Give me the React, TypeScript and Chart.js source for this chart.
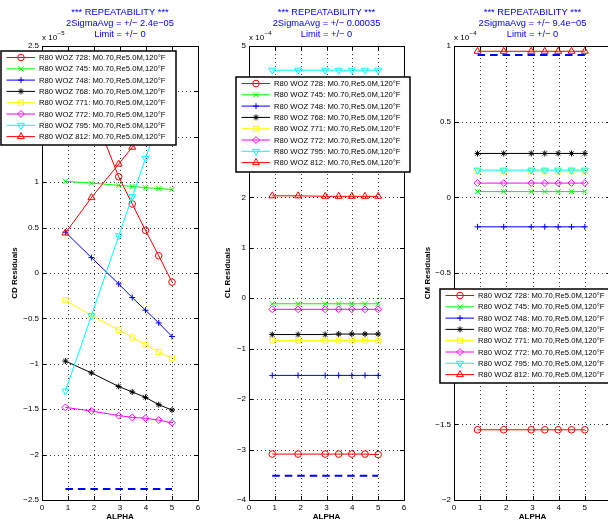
import React, { useEffect, useRef } from 'react';
import { Chart, registerables } from 'chart.js';

Chart.register(...registerables);

// ---------------- data ----------------
const ALPHA = [0.9, 1.9, 2.95, 3.47, 3.98, 4.49, 5.0];

const RUN_LABELS = [
  'R80 WOZ 728: M0.70,Re5.0M,120°F',
  'R80 WOZ 745: M0.70,Re5.0M,120°F',
  'R80 WOZ 748: M0.70,Re5.0M,120°F',
  'R80 WOZ 768: M0.70,Re5.0M,120°F',
  'R80 WOZ 771: M0.70,Re5.0M,120°F',
  'R80 WOZ 772: M0.70,Re5.0M,120°F',
  'R80 WOZ 795: M0.70,Re5.0M,120°F',
  'R80 WOZ 812: M0.70,Re5.0M,120°F',
];

// CD residuals (x 10^-5)
const CD_728 = [2.3, 1.82, 1.06, 0.76, 0.47, 0.19, -0.1];
const CD_745 = [1.01, 0.99, 0.965, 0.954, 0.94, 0.93, 0.92];
const CD_748 = [0.45, 0.17, -0.12, -0.27, -0.41, -0.55, -0.7];
const CD_768 = [-0.97, -1.1, -1.25, -1.31, -1.37, -1.45, -1.51];
const CD_771 = [-0.3, -0.47, -0.625, -0.71, -0.79, -0.87, -0.94];
const CD_772 = [-1.48, -1.52, -1.57, -1.59, -1.6, -1.62, -1.65];
const CD_795 = [-1.3, -0.47, 0.41, 0.84, 1.26, 1.69, 2.12];
const CD_812 = [0.44, 0.83, 1.2, 1.385, 1.57, 1.76, 1.94];
const CD_2SIGMA = -2.38;

// CL residuals (x 10^-4)
const CL_728 = [-3.09, -3.09, -3.09, -3.09, -3.09, -3.09, -3.1];
const CL_745 = [-0.11, -0.11, -0.11, -0.11, -0.11, -0.11, -0.11];
const CL_748 = [-1.53, -1.53, -1.53, -1.53, -1.53, -1.53, -1.53];
const CL_768 = [-0.72, -0.72, -0.72, -0.71, -0.71, -0.71, -0.71];
const CL_771 = [-0.84, -0.84, -0.84, -0.84, -0.84, -0.84, -0.84];
const CL_772 = [-0.22, -0.22, -0.22, -0.22, -0.22, -0.22, -0.22];
const CL_795 = [4.52, 4.52, 4.52, 4.52, 4.52, 4.52, 4.52];
const CL_812 = [2.03, 2.03, 2.02, 2.02, 2.02, 2.02, 2.02];
const CL_2SIGMA = -3.52;

// CM residuals (x 10^-4)
const CM_728 = [-1.536, -1.536, -1.536, -1.536, -1.536, -1.536, -1.536];
const CM_745 = [0.038, 0.038, 0.038, 0.038, 0.038, 0.038, 0.038];
const CM_748 = [-0.195, -0.195, -0.195, -0.195, -0.195, -0.195, -0.195];
const CM_768 = [0.29, 0.29, 0.29, 0.29, 0.29, 0.29, 0.29];
const CM_771 = [0.172, 0.172, 0.172, 0.172, 0.172, 0.172, 0.172];
const CM_772 = [0.094, 0.094, 0.094, 0.094, 0.094, 0.094, 0.094];
const CM_795 = [0.18, 0.18, 0.18, 0.18, 0.18, 0.18, 0.18];
const CM_812 = [0.965, 0.965, 0.965, 0.965, 0.965, 0.965, 0.965];
const CM_2SIGMA = 0.94;

const TITLE_LINE_1 = '*** REPEATABILITY ***';
const CD_TITLE_2 = '2SigmaAvg = +/\u2212 2.4e\u221205';
const CL_TITLE_2 = '2SigmaAvg = +/\u2212 0.00035';
const CM_TITLE_2 = '2SigmaAvg = +/\u2212 9.4e\u221205';
const TITLE_LINE_3 = 'Limit = +/\u2212 0';

// ---------------- styles ----------------
const FONT = '"Liberation Sans", Arial, Helvetica, sans-serif';
const SERIES_COLORS = ['#ff0000', '#00ff00', '#0000ff', '#000000', '#ffff00', '#ff00ff', '#00ffff', '#ff0000'];
const SERIES_MARKERS = ['circle', 'crossRot', 'cross', 'star', 'rect', 'rectRot', 'triangle', 'triangle'];
const SERIES_ROTATION = [0, 0, 0, 0, 0, 0, 180, 0];
const SERIES_RADIUS = [3.3, 3.6, 3, 3, 3.6, 3.4, 4, 4];

const CW = 620;
const CH = 523;
const TOP = 46;
const BOTTOM = 500;
const YW = 40;
const XH = 14;

type PanelSpec = {
  left: number;
  right: number;
  yMin: number;
  yMax: number;
  yStep: number;
  series: number[][];
  sigma: number;
  title2: string;
  exponent: string;
  yLabel: string;
  yLabelX: number;
  legend: { x: number; y: number; w: number; h: number };
};

const PANELS: PanelSpec[] = [
  {
    left: 42, right: 198, yMin: -2.5, yMax: 2.5, yStep: 0.5,
    series: [CD_728, CD_745, CD_748, CD_768, CD_771, CD_772, CD_795, CD_812],
    sigma: CD_2SIGMA, title2: CD_TITLE_2, exponent: '\u22125', yLabel: 'CD Residuals', yLabelX: 15,
    legend: { x: 1, y: 51, w: 175, h: 94 },
  },
  {
    left: 249, right: 404, yMin: -4, yMax: 5, yStep: 1,
    series: [CL_728, CL_745, CL_748, CL_768, CL_771, CL_772, CL_795, CL_812],
    sigma: CL_2SIGMA, title2: CL_TITLE_2, exponent: '\u22124', yLabel: 'CL Residuals', yLabelX: 228,
    legend: { x: 236, y: 77, w: 174, h: 95 },
  },
  {
    left: 454, right: 611, yMin: -2, yMax: 1, yStep: 0.5,
    series: [CM_728, CM_745, CM_748, CM_768, CM_771, CM_772, CM_795, CM_812],
    sigma: CM_2SIGMA, title2: CM_TITLE_2, exponent: '\u22124', yLabel: 'CM Residuals', yLabelX: 428,
    legend: { x: 440, y: 289, w: 174, h: 94 },
  },
];

function fmtTick(v: number | string) {
  const n = Math.round(Number(v) * 100) / 100;
  return String(n).replace('-', '\u2212');
}

function drawMarker(ctx: CanvasRenderingContext2D, style: string, x: number, y: number, r: number, rot: number, color: string) {
  ctx.save();
  ctx.strokeStyle = color;
  ctx.lineWidth = 1;
  ctx.beginPath();
  const d = r * Math.SQRT1_2;
  switch (style) {
    case 'circle':
      ctx.arc(x, y, r, 0, Math.PI * 2);
      break;
    case 'crossRot':
      ctx.moveTo(x - d, y - d); ctx.lineTo(x + d, y + d);
      ctx.moveTo(x + d, y - d); ctx.lineTo(x - d, y + d);
      break;
    case 'cross':
      ctx.moveTo(x - r, y); ctx.lineTo(x + r, y);
      ctx.moveTo(x, y - r); ctx.lineTo(x, y + r);
      break;
    case 'star':
      ctx.moveTo(x - r, y); ctx.lineTo(x + r, y);
      ctx.moveTo(x, y - r); ctx.lineTo(x, y + r);
      ctx.moveTo(x - d, y - d); ctx.lineTo(x + d, y + d);
      ctx.moveTo(x + d, y - d); ctx.lineTo(x - d, y + d);
      break;
    case 'rect':
      ctx.rect(x - d, y - d, 2 * d, 2 * d);
      break;
    case 'rectRot':
      ctx.moveTo(x - r, y); ctx.lineTo(x, y - r); ctx.lineTo(x + r, y); ctx.lineTo(x, y + r); ctx.closePath();
      break;
    case 'triangle': {
      let a = (rot * Math.PI) / 180;
      ctx.moveTo(x + Math.sin(a) * r, y - Math.cos(a) * r);
      a += (2 * Math.PI) / 3;
      ctx.lineTo(x + Math.sin(a) * r, y - Math.cos(a) * r);
      a += (2 * Math.PI) / 3;
      ctx.lineTo(x + Math.sin(a) * r, y - Math.cos(a) * r);
      ctx.closePath();
      break;
    }
  }
  ctx.stroke();
  ctx.restore();
}

function makePlugin(spec: PanelSpec) {
  return {
    id: 'matlabDecor',
    beforeDatasetsDraw(chart: any) {
      const { ctx, chartArea } = chart;
      const xs = chart.scales.x;
      const ys = chart.scales.y;
      ctx.save();
      ctx.strokeStyle = '#3a3a3a';
      ctx.lineWidth = 1;
      ctx.setLineDash([1, 3]);
      xs.ticks.forEach((t: any) => {
        const px = Math.round(xs.getPixelForValue(t.value)) + 0.5;
        if (px <= chartArea.left + 1 || px >= chartArea.right - 1) return;
        ctx.beginPath();
        ctx.moveTo(px, chartArea.top);
        ctx.lineTo(px, chartArea.bottom);
        ctx.stroke();
      });
      ys.ticks.forEach((t: any) => {
        const py = Math.round(ys.getPixelForValue(t.value)) + 0.5;
        if (py <= chartArea.top + 1 || py >= chartArea.bottom - 1) return;
        ctx.beginPath();
        ctx.moveTo(chartArea.left, py);
        ctx.lineTo(chartArea.right, py);
        ctx.stroke();
      });
      ctx.restore();
    },
    afterDraw(chart: any) {
      const { ctx, chartArea } = chart;
      const xs = chart.scales.x;
      const ys = chart.scales.y;
      const { left, right, top, bottom } = chartArea;
      ctx.save();
      // box
      ctx.strokeStyle = '#000';
      ctx.lineWidth = 1;
      ctx.setLineDash([]);
      ctx.strokeRect(left + 0.5, top + 0.5, right - left, bottom - top);
      // inward ticks
      const TL = 4;
      ctx.beginPath();
      xs.ticks.forEach((t: any) => {
        const px = Math.round(xs.getPixelForValue(t.value)) + 0.5;
        ctx.moveTo(px, bottom); ctx.lineTo(px, bottom - TL);
        ctx.moveTo(px, top); ctx.lineTo(px, top + TL);
      });
      ys.ticks.forEach((t: any) => {
        const py = Math.round(ys.getPixelForValue(t.value)) + 0.5;
        ctx.moveTo(left, py); ctx.lineTo(left + TL, py);
        ctx.moveTo(right, py); ctx.lineTo(right - TL, py);
      });
      ctx.stroke();

      // title
      const cx = (left + right) / 2;
      ctx.fillStyle = '#0000ff';
      ctx.font = `9.3px ${FONT}`;
      ctx.textAlign = 'center';
      ctx.textBaseline = 'middle';
      ctx.fillText(TITLE_LINE_1, cx, 12.5);
      ctx.fillText(spec.title2, cx, 23.5);
      ctx.fillText(TITLE_LINE_3, cx, 34.5);

      // exponent
      ctx.fillStyle = '#000';
      ctx.textAlign = 'left';
      ctx.font = `8px ${FONT}`;
      ctx.fillText('x 10', left, 38);
      const w = ctx.measureText('x 10').width;
      ctx.font = `6px ${FONT}`;
      ctx.fillText(spec.exponent, left + w + 0.5, 33.5);

      // axis labels
      ctx.font = `bold 8px ${FONT}`;
      ctx.textAlign = 'center';
      ctx.fillText('ALPHA', cx, 517);
      ctx.save();
      ctx.translate(spec.yLabelX, (top + bottom) / 2);
      ctx.rotate(-Math.PI / 2);
      ctx.fillText(spec.yLabel, 0, 0);
      ctx.restore();

      // legend
      const L = spec.legend;
      ctx.fillStyle = '#fff';
      ctx.fillRect(L.x, L.y, L.w, L.h);
      ctx.strokeStyle = '#000';
      ctx.lineWidth = 1.5;
      ctx.strokeRect(L.x, L.y, L.w, L.h);
      ctx.font = `7.7px ${FONT}`;
      ctx.textAlign = 'left';
      ctx.textBaseline = 'middle';
      RUN_LABELS.forEach((lab, i) => {
        const ry = L.y + 6.5 + i * 11.3;
        ctx.strokeStyle = SERIES_COLORS[i];
        ctx.lineWidth = 1;
        ctx.beginPath();
        ctx.moveTo(L.x + 5.5, ry);
        ctx.lineTo(L.x + 34, ry);
        ctx.stroke();
        drawMarker(ctx, SERIES_MARKERS[i], L.x + 20, ry, SERIES_RADIUS[i], SERIES_ROTATION[i], SERIES_COLORS[i]);
        ctx.fillStyle = '#000';
        ctx.fillText(lab, L.x + 38, ry + 0.5);
      });
      ctx.restore();
    },
  };
}

function makeConfig(spec: PanelSpec): any {
  const datasets: any[] = spec.series.map((vals, i) => ({
    label: RUN_LABELS[i],
    data: ALPHA.map((a, j) => ({ x: a, y: vals[j] })),
    borderColor: SERIES_COLORS[i],
    backgroundColor: 'rgba(0,0,0,0)',
    pointBackgroundColor: 'rgba(0,0,0,0)',
    pointBorderColor: SERIES_COLORS[i],
    pointStyle: SERIES_MARKERS[i],
    pointRotation: SERIES_ROTATION[i],
    pointRadius: SERIES_RADIUS[i],
    pointBorderWidth: 1,
    borderWidth: 1,
    tension: 0,
    fill: false,
    order: 20 - i,
  }));
  datasets.push({
    label: '2 sigma',
    data: [
      { x: ALPHA[0], y: spec.sigma },
      { x: ALPHA[ALPHA.length - 1], y: spec.sigma },
    ],
    borderColor: '#0000ff',
    borderWidth: 2,
    borderDash: [7.5, 5],
    pointRadius: 0,
    fill: false,
    order: 0,
  });
  return {
    type: 'line',
    data: { datasets },
    plugins: [makePlugin(spec)],
    options: {
      responsive: false,
      animation: false,
      devicePixelRatio: 1,
      events: [],
      layout: {
        padding: {
          left: spec.left - YW,
          right: CW - spec.right,
          top: TOP,
          bottom: CH - BOTTOM - XH,
        },
      },
      plugins: {
        legend: { display: false },
        title: { display: false },
        tooltip: { enabled: false },
      },
      scales: {
        x: {
          type: 'linear',
          min: 0,
          max: 6,
          afterFit: (s: any) => { s.height = XH; },
          grid: { display: false, drawTicks: false },
          border: { display: false },
          ticks: {
            stepSize: 1,
            autoSkip: false,
            maxRotation: 0,
            padding: 3,
            color: '#000',
            font: { family: FONT, size: 8 },
            callback: (v: any) => fmtTick(v),
          },
        },
        y: {
          type: 'linear',
          min: spec.yMin,
          max: spec.yMax,
          afterFit: (s: any) => { s.width = YW; },
          grid: { display: false, drawTicks: false },
          border: { display: false },
          ticks: {
            stepSize: spec.yStep,
            autoSkip: false,
            padding: 3,
            color: '#000',
            font: { family: FONT, size: 8 },
            callback: (v: any) => fmtTick(v),
          },
        },
      },
    },
  };
}

function Panel({ spec }: { spec: PanelSpec }) {
  const ref = useRef<HTMLCanvasElement | null>(null);
  useEffect(() => {
    if (!ref.current) return;
    const chart = new Chart(ref.current, makeConfig(spec));
    return () => chart.destroy();
  }, [spec]);
  return (
    <canvas
      ref={ref}
      width={CW}
      height={CH}
      style={{ position: 'absolute', left: 0, top: 0, width: CW, height: CH }}
    />
  );
}

export default function App() {
  return (
    <div
      style={{
        position: 'fixed',
        left: 0,
        top: 0,
        width: 608,
        height: 523,
        overflow: 'hidden',
        background: '#fff',
      }}
    >
      {PANELS.map((p, i) => (
        <Panel key={i} spec={p} />
      ))}
    </div>
  );
}
